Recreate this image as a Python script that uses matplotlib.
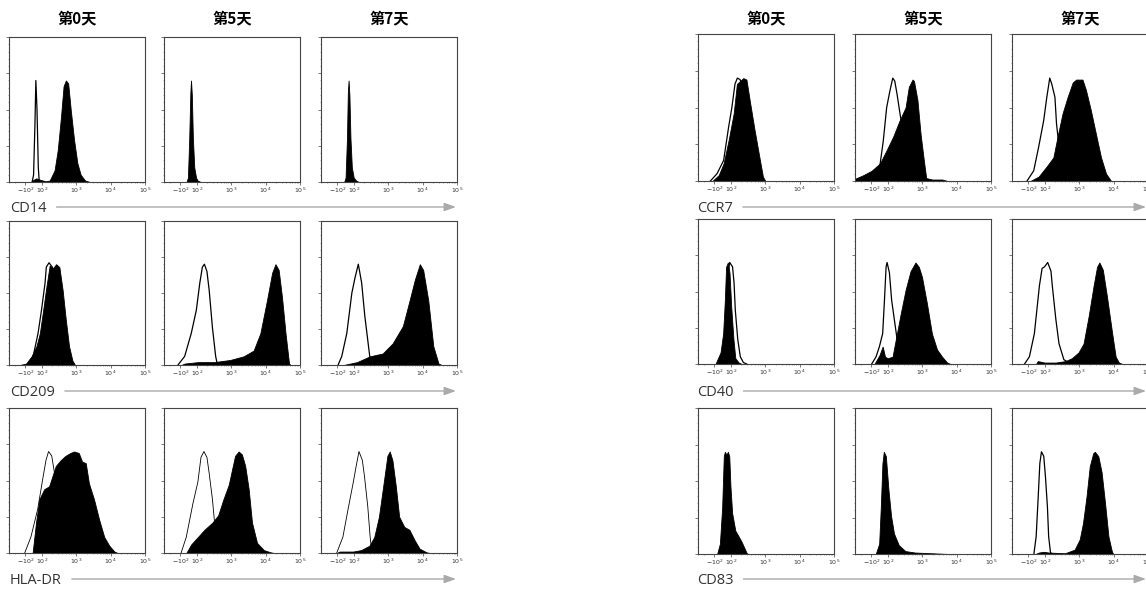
import numpy as np
import matplotlib
matplotlib.use("Agg")
import matplotlib.pyplot as plt
from matplotlib.patches import FancyArrowPatch
from matplotlib.ticker import FixedLocator

# Tage und Marker
DAYS = ['第0天', '第5天', '第7天']
LEFT_MARKERS = ['CD14', 'CD209', 'HLA-DR']
RIGHT_MARKERS = ['CCR7', 'CD40', 'CD83']

TICK_VALUES = [-100, 100, 1e3, 1e4, 1e5]
TICK_LABELS = [r'$-10^2$', r'$10^2$', r'$10^3$', r'$10^4$', r'$10^5$']

# Histogramme: Intensitaet (x) und relative Zellzahl (y)
# fill = gefaerbte Probe, open = Isotypkontrolle
CD14_D0_OPEN_X = [-17, 0, 17, 28, 42, 58, 70]
CD14_D0_OPEN_Y = [0, 0.05, 0.40, 0.70, 0.50, 0.10, 0]
CD14_D0_FILL_X = [-33, 0, 33, 83, 130, 170, 236, 292, 363, 431, 503, 587, 695, 870, 1086, 1350, 1820, 2500]
CD14_D0_FILL_Y = [0, 0.015, 0.025, 0.015, 0.005, 0.01, 0.08, 0.22, 0.45, 0.66, 0.70, 0.68, 0.50, 0.29, 0.13, 0.05, 0.01, 0]
CD14_D5_FILL_X = [-25, -8, 8, 22, 30, 40, 53, 70, 92, 106, 130]
CD14_D5_FILL_Y = [0, 0.03, 0.30, 0.62, 0.70, 0.60, 0.30, 0.10, 0.03, 0.01, 0]
CD14_D7_FILL_X = [-17, 0, 17, 28, 37, 47, 60, 77, 100, 117, 140]
CD14_D7_FILL_Y = [0, 0.03, 0.30, 0.62, 0.70, 0.60, 0.30, 0.10, 0.03, 0.01, 0]

CD209_D0_OPEN_X = [-67, -5, 55, 97, 125, 136, 163, 203, 255, 315, 395, 490, 612]
CD209_D0_OPEN_Y = [0, 0.06, 0.22, 0.38, 0.57, 0.68, 0.71, 0.68, 0.62, 0.45, 0.25, 0.08, 0]
CD209_D0_FILL_X = [-145, -92, -25, 35, 77, 110, 136, 170, 210, 262, 325, 405, 503, 622, 780, 930]
CD209_D0_FILL_Y = [0, 0.01, 0.06, 0.13, 0.22, 0.38, 0.54, 0.69, 0.67, 0.70, 0.68, 0.52, 0.31, 0.13, 0.03, 0]
CD209_D5_OPEN_X = [-118, -48, 33, 95, 123, 146, 167, 198, 230, 286, 355, 400]
CD209_D5_OPEN_Y = [0, 0.06, 0.22, 0.38, 0.57, 0.68, 0.70, 0.65, 0.52, 0.26, 0.06, 0]
CD209_D5_FILL_X = [-88, -48, 108, 320, 940, 2290, 4490, 7050, 11000, 15500, 19400, 24000, 30000, 38000, 48000, 53000]
CD209_D5_FILL_Y = [0, 0.01, 0.02, 0.02, 0.035, 0.06, 0.10, 0.22, 0.45, 0.64, 0.70, 0.66, 0.47, 0.22, 0.01, 0]
CD209_D7_OPEN_X = [-92, -47, 15, 77, 110, 136, 170, 210, 292, 325]
CD209_D7_OPEN_Y = [0, 0.06, 0.22, 0.50, 0.61, 0.70, 0.57, 0.34, 0.06, 0]
CD209_D7_FILL_X = [-25, 125, 292, 695, 1350, 2680, 4210, 5930, 8320, 10400, 14600, 20500, 29000, 36000]
CD209_D7_FILL_Y = [0, 0.02, 0.06, 0.08, 0.15, 0.27, 0.45, 0.59, 0.70, 0.66, 0.45, 0.13, 0.01, 0]

HLA_D0_OPEN_X = [-105, -33, 50, 107, 133, 158, 195, 243, 292, 410, 640, 1000]
HLA_D0_OPEN_Y = [0, 0.11, 0.30, 0.51, 0.64, 0.70, 0.67, 0.53, 0.45, 0.20, 0.05, 0]
HLA_D0_FILL_X = [-12, 30, 70, 118, 164, 205, 256, 355, 490, 683, 860, 1190, 1490, 1900, 2350, 3300, 4650, 6550, 9200, 12900, 16000]
HLA_D0_FILL_Y = [0, 0.21, 0.37, 0.44, 0.46, 0.53, 0.60, 0.64, 0.67, 0.69, 0.70, 0.69, 0.63, 0.62, 0.48, 0.37, 0.23, 0.11, 0.05, 0.01, 0]
HLA_D5_OPEN_X = [-92, -28, 53, 108, 133, 162, 198, 230, 286, 330, 395, 430]
HLA_D5_OPEN_Y = [0, 0.11, 0.34, 0.49, 0.66, 0.70, 0.66, 0.55, 0.37, 0.21, 0.05, 0]
HLA_D5_FILL_X = [-28, 33, 108, 167, 286, 420, 595, 850, 1050, 1300, 1650, 2050, 2560, 3230, 4030, 5640, 8870, 13800, 17400]
HLA_D5_FILL_Y = [0, 0.06, 0.11, 0.16, 0.21, 0.26, 0.37, 0.47, 0.57, 0.67, 0.70, 0.68, 0.60, 0.44, 0.21, 0.07, 0.02, 0.005, 0]
HLA_D7_OPEN_X = [-105, -33, 30, 92, 118, 142, 178, 205, 256, 300, 340]
HLA_D7_OPEN_Y = [0, 0.11, 0.30, 0.48, 0.60, 0.70, 0.64, 0.53, 0.32, 0.11, 0]
HLA_D7_FILL_X = [-105, -72, -12, 92, 164, 285, 395, 540, 768, 950, 1110, 1330, 1670, 2090, 2940, 4140, 5820, 8170, 12900, 16000]
HLA_D7_FILL_Y = [0, 0.01, 0.01, 0.01, 0.02, 0.05, 0.11, 0.25, 0.51, 0.67, 0.70, 0.64, 0.46, 0.25, 0.18, 0.16, 0.09, 0.03, 0.005, 0]

CCR7_D0_OPEN_X = [-131, -68, 13, 75, 108, 133, 156, 187, 243, 345, 490, 690]
CCR7_D0_OPEN_Y = [0, 0.05, 0.14, 0.37, 0.50, 0.66, 0.70, 0.69, 0.60, 0.35, 0.10, 0]
CCR7_D0_FILL_X = [-115, -47, 13, 75, 122, 151, 187, 232, 286, 355, 490, 683, 860, 1010]
CCR7_D0_FILL_Y = [0, 0.04, 0.12, 0.28, 0.46, 0.66, 0.68, 0.70, 0.69, 0.55, 0.35, 0.16, 0.03, 0]
CCR7_D5_OPEN_X = [-35, 5, 45, 87, 115, 140, 160, 187, 220, 290, 410, 590]
CCR7_D5_OPEN_Y = [0, 0.11, 0.27, 0.50, 0.61, 0.70, 0.68, 0.59, 0.48, 0.30, 0.12, 0]
CCR7_D5_FILL_X = [-300, -171, -97, 5, 87, 143, 220, 330, 410, 525, 580, 730, 900, 1120, 1310, 1960, 3840, 5400]
CCR7_D5_FILL_Y = [0.015, 0.04, 0.07, 0.12, 0.21, 0.30, 0.41, 0.50, 0.64, 0.69, 0.68, 0.55, 0.32, 0.14, 0.02, 0.01, 0.01, 0]
CCR7_D7_OPEN_X = [-110, -35, 25, 87, 115, 140, 160, 198, 220, 272, 330, 370]
CCR7_D7_OPEN_Y = [0, 0.07, 0.23, 0.41, 0.57, 0.70, 0.66, 0.57, 0.39, 0.19, 0.03, 0]
CCR7_D7_FILL_X = [-77, 25, 115, 178, 245, 330, 460, 650, 820, 1000, 1250, 1570, 2190, 3070, 4320, 6040, 8470]
CCR7_D7_FILL_Y = [0, 0.03, 0.10, 0.16, 0.32, 0.46, 0.57, 0.67, 0.69, 0.69, 0.69, 0.62, 0.48, 0.32, 0.16, 0.05, 0]

CD40_D0_OPEN_X = [-67, -5, 35, 65, 88, 113, 125, 136, 160, 190, 234, 292]
CD40_D0_OPEN_Y = [0, 0.05, 0.26, 0.63, 0.70, 0.67, 0.56, 0.37, 0.17, 0.05, 0.01, 0]
CD40_D0_FILL_X = [-87, -25, 7, 28, 43, 65, 85, 103, 120, 136, 170, 210]
CD40_D0_FILL_Y = [0, 0.08, 0.21, 0.44, 0.67, 0.70, 0.63, 0.40, 0.17, 0.04, 0.01, 0]
CD40_D5_OPEN_X = [-97, -43, -2, 38, 60, 80, 92, 112, 130, 155, 195, 240, 296]
CD40_D5_OPEN_Y = [0, 0.05, 0.12, 0.21, 0.44, 0.67, 0.70, 0.63, 0.44, 0.31, 0.14, 0.03, 0]
CD40_D5_FILL_X = [-63, -2, 38, 67, 100, 138, 172, 240, 330, 460, 640, 800, 990, 1370, 1920, 2700, 3800, 5300, 6660]
CD40_D5_FILL_Y = [0, 0.06, 0.12, 0.05, 0.04, 0.05, 0.17, 0.35, 0.51, 0.64, 0.70, 0.67, 0.60, 0.42, 0.21, 0.10, 0.05, 0.01, 0]
CD40_D7_OPEN_X = [-130, -88, -27, 35, 68, 97, 122, 152, 166, 210, 260, 360, 500, 615]
CD40_D7_OPEN_Y = [0, 0.05, 0.21, 0.54, 0.66, 0.67, 0.70, 0.64, 0.54, 0.31, 0.14, 0.03, 0.01, 0]
CD40_D7_FILL_X = [-7, 15, 97, 210, 400, 615, 960, 1340, 1890, 2630, 3310, 3870, 4870, 6470, 9120, 11500, 14300, 18000]
CD40_D7_FILL_Y = [0, 0.02, 0.01, 0.01, 0.02, 0.04, 0.08, 0.14, 0.33, 0.54, 0.67, 0.70, 0.65, 0.46, 0.21, 0.05, 0.01, 0]

CD83_D0_FILL_X = [-67, -33, -5, 15, 28, 48, 65, 82, 97, 110, 136, 170, 210, 262, 292, 325]
CD83_D0_FILL_Y = [0, 0.07, 0.32, 0.67, 0.70, 0.68, 0.70, 0.67, 0.46, 0.28, 0.16, 0.12, 0.08, 0.03, 0.005, 0]
CD83_D5_FILL_X = [-47, -5, 15, 35, 52, 77, 105, 125, 152, 210, 325, 620, 1910, 5900]
CD83_D5_FILL_Y = [0, 0.07, 0.32, 0.62, 0.70, 0.67, 0.44, 0.26, 0.14, 0.06, 0.02, 0.01, 0.005, 0]
CD83_D7_OPEN_X = [-33, -5, 20, 40, 60, 88, 105, 120, 130, 147, 163]
CD83_D7_OPEN_Y = [0, 0.12, 0.39, 0.62, 0.70, 0.67, 0.53, 0.32, 0.12, 0.01, 0]
CD83_D7_FILL_X = [-13, 28, 88, 130, 390, 740, 1040, 1290, 1630, 2030, 2560, 2860, 3600, 4490, 5640, 7100, 8870, 9720]
CD83_D7_FILL_Y = [0, 0.01, 0.015, 0.01, 0.005, 0.03, 0.10, 0.21, 0.39, 0.60, 0.69, 0.70, 0.67, 0.56, 0.35, 0.12, 0.02, 0]

PANELS = {
    'CD14': [((CD14_D0_FILL_X, CD14_D0_FILL_Y), (CD14_D0_OPEN_X, CD14_D0_OPEN_Y)),
             ((CD14_D5_FILL_X, CD14_D5_FILL_Y), None),
             ((CD14_D7_FILL_X, CD14_D7_FILL_Y), None)],
    'CD209': [((CD209_D0_FILL_X, CD209_D0_FILL_Y), (CD209_D0_OPEN_X, CD209_D0_OPEN_Y)),
              ((CD209_D5_FILL_X, CD209_D5_FILL_Y), (CD209_D5_OPEN_X, CD209_D5_OPEN_Y)),
              ((CD209_D7_FILL_X, CD209_D7_FILL_Y), (CD209_D7_OPEN_X, CD209_D7_OPEN_Y))],
    'HLA-DR': [((HLA_D0_FILL_X, HLA_D0_FILL_Y), (HLA_D0_OPEN_X, HLA_D0_OPEN_Y)),
               ((HLA_D5_FILL_X, HLA_D5_FILL_Y), (HLA_D5_OPEN_X, HLA_D5_OPEN_Y)),
               ((HLA_D7_FILL_X, HLA_D7_FILL_Y), (HLA_D7_OPEN_X, HLA_D7_OPEN_Y))],
    'CCR7': [((CCR7_D0_FILL_X, CCR7_D0_FILL_Y), (CCR7_D0_OPEN_X, CCR7_D0_OPEN_Y)),
             ((CCR7_D5_FILL_X, CCR7_D5_FILL_Y), (CCR7_D5_OPEN_X, CCR7_D5_OPEN_Y)),
             ((CCR7_D7_FILL_X, CCR7_D7_FILL_Y), (CCR7_D7_OPEN_X, CCR7_D7_OPEN_Y))],
    'CD40': [((CD40_D0_FILL_X, CD40_D0_FILL_Y), (CD40_D0_OPEN_X, CD40_D0_OPEN_Y)),
             ((CD40_D5_FILL_X, CD40_D5_FILL_Y), (CD40_D5_OPEN_X, CD40_D5_OPEN_Y)),
             ((CD40_D7_FILL_X, CD40_D7_FILL_Y), (CD40_D7_OPEN_X, CD40_D7_OPEN_Y))],
    'CD83': [((CD83_D0_FILL_X, CD83_D0_FILL_Y), None),
             ((CD83_D5_FILL_X, CD83_D5_FILL_Y), None),
             ((CD83_D7_FILL_X, CD83_D7_FILL_Y), (CD83_D7_OPEN_X, CD83_D7_OPEN_Y))],
}

# Layout in Pixeln
W, H = 1146, 589
PANEL_W = 136
GROUPS = [
    dict(markers=LEFT_MARKERS, cols=[9, 164, 321], rows=[(37, 182), (221, 365), (408, 553)],
         label_x=10, arrow_end=456),
    dict(markers=RIGHT_MARKERS, cols=[698, 855, 1012], rows=[(34, 181), (219, 364), (408, 554)],
         label_x=697, arrow_end=1146),
]
LABEL_Y = [208, 392, 580]
TITLE_Y = 18

plt.rcParams['mathtext.fontset'] = 'dejavusans'
fig = plt.figure(figsize=(W / 100, H / 100), dpi=100)

minor_ticks = [-300, -200] + [k * 10 ** e for e in (2, 3, 4) for k in range(2, 10)]

labels = []
for g in GROUPS:
    for r, marker in enumerate(g['markers']):
        top, bottom = g['rows'][r]
        for c in range(3):
            ax = fig.add_axes([g['cols'][c] / W, 1 - bottom / H, PANEL_W / W, (bottom - top) / H])
            ax.set_xscale('symlog', linthresh=100, linscale=0.213)
            ax.set_xlim(-300, 1e5)
            ax.set_ylim(0, 1)
            fill, open_ = PANELS[marker][c]
            ax.fill_between(fill[0], fill[1], 0, color='black', lw=0.6, edgecolor='black')
            if open_ is not None:
                lw = 0.6 if marker == 'HLA-DR' else 0.9
                ax.plot(open_[0], open_[1], color='black', lw=lw)
            ax.set_xticks(TICK_VALUES)
            ax.set_xticklabels(TICK_LABELS, fontsize=4.5, color='#333333')
            ax.xaxis.set_minor_locator(FixedLocator(minor_ticks))
            ax.set_yticks(np.linspace(0, 1, 5))
            ax.set_yticks(np.linspace(0, 1, 21), minor=True)
            ax.set_yticklabels([])
            ax.tick_params(which='major', direction='out', length=2, width=0.5, color='#444444', pad=1)
            ax.tick_params(which='minor', direction='out', length=1, width=0.4, color='#666666')
            for s in ax.spines.values():
                s.set_linewidth(0.8)
                s.set_color('#444444')
            if r == 0:
                fig.text((g['cols'][c] + PANEL_W / 2) / W, 1 - TITLE_Y / H, DAYS[c],
                         ha='center', va='center', fontsize=11, fontweight='bold',
                         family=['Noto Sans CJK SC', 'DejaVu Sans'])
        t = fig.text(g['label_x'] / W, 1 - LABEL_Y[r] / H, marker, ha='left', va='center',
                     fontsize=10.5, family='Open Sans', color='#333333')
        labels.append((t, g['arrow_end'], LABEL_Y[r]))

# Pfeile hinter den Beschriftungen
fig.canvas.draw()
renderer = fig.canvas.get_renderer()
for t, x_end, y in labels:
    bb = t.get_window_extent(renderer)
    arr = FancyArrowPatch(((bb.x1 + 10) / W, 1 - (y - 1) / H), (x_end / W, 1 - (y - 1) / H),
                          transform=fig.transFigure, arrowstyle='-|>,head_length=0.7,head_width=0.25',
                          mutation_scale=10, color='#aaaaaa', lw=1, shrinkA=0, shrinkB=0)
    fig.add_artist(arr)

fig.savefig('out.png', dpi=100)
